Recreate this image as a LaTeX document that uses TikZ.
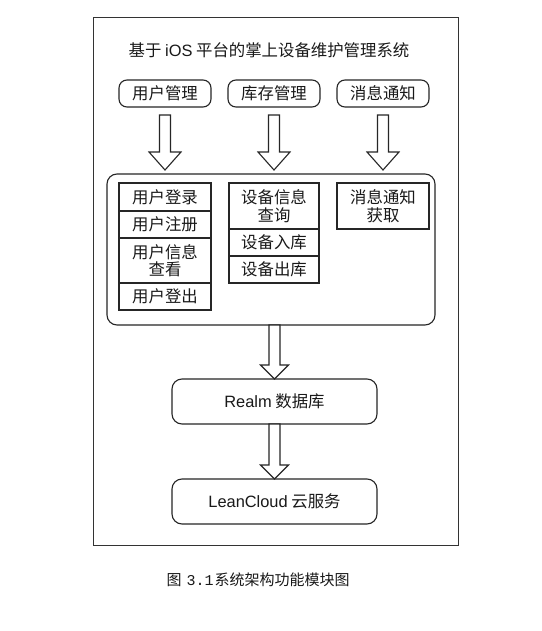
\documentclass[tikz,border=0pt]{standalone}
\usepackage{fontspec}
\setmainfont{Liberation Sans}
\newfontfamily\cjk{Noto Sans CJK SC}
\newfontfamily\monofont{Liberation Mono}
\usetikzlibrary{calc}
\newcommand{\hollowarrow}[4]{%
  \draw[blockarr] let \p1=(#1), \p2=(#2) in
    (\x1-5.5pt,\y1) -- (\x1-5.5pt,\y2+#3) -- (\x1-#4,\y2+#3) -- (\x1,\y2)
    -- (\x1+#4,\y2+#3) -- (\x1+5.5pt,\y2+#3) -- (\x1+5.5pt,\y1) -- cycle;}
\begin{document}
\begin{tikzpicture}[x=1pt,y=-1pt,
  every node/.style={inner sep=0pt, outer sep=0pt, align=center,
    font=\fontsize{16.4}{17.5}\selectfont\cjk, text=black!90},
  rbox/.style={draw=black!85, line width=1.1pt, rounded corners=8pt},
  sbox/.style={draw=black!85, line width=1.1pt},
  blockarr/.style={draw=black!85, line width=1.1pt, fill=white, line join=miter}]
\useasboundingbox[fill=white] (0,0) rectangle (541,631);
% outer frame
\node[draw=black!80, line width=1pt, minimum width=365pt, minimum height=527pt] (outer) at (275.5,281.5) {};
\node (title) at (269,50) {基于 {\rmfamily iOS} 平台的掌上设备维护管理系统};
% top modules
\node[rbox, minimum width=92pt, minimum height=27pt] (t1) at (165,93.5) {用户管理};
\node[rbox, minimum width=92pt, minimum height=27pt] (t2) at (274,93.5) {库存管理};
\node[rbox, minimum width=92pt, minimum height=27pt] (t3) at (383,93.5) {消息通知};
% big container
\node[rbox, rounded corners=10pt, minimum width=328pt, minimum height=151pt] (big) at (271,249.5) {};
% column 1
\node[sbox, minimum width=92pt, minimum height=28pt] (c1a) at (165,197) {用户登录};
\node[sbox, minimum width=92pt, minimum height=27pt] (c1b) at (165,224.5) {用户注册};
\node[sbox, minimum width=92pt, minimum height=45pt] (c1c) at (165,260.5) {用户信息\\查看};
\node[sbox, minimum width=92pt, minimum height=27pt] (c1d) at (165,296.5) {用户登出};
% column 2
\node[sbox, minimum width=90pt, minimum height=46pt] (c2a) at (274,206) {设备信息\\查询};
\node[sbox, minimum width=90pt, minimum height=27pt] (c2b) at (274,242.5) {设备入库};
\node[sbox, minimum width=90pt, minimum height=27pt] (c2c) at (274,269.5) {设备出库};
% column 3
\node[sbox, minimum width=92pt, minimum height=46pt] (c3a) at (383,206) {消息通知\\获取};
% bottom layers
\node[rbox, rounded corners=10pt, minimum width=205pt, minimum height=45pt] (realm) at (274.5,401.5) {{\rmfamily Realm} 数据库};
\node[rbox, rounded corners=10pt, minimum width=205pt, minimum height=45pt] (lean) at (274.5,501.5) {{\rmfamily LeanCloud} 云服务};
% arrows
\hollowarrow{$(t1.south)+(0,8)$}{$(t1.south |- big.north)+(0,-4)$}{18pt}{16pt}
\hollowarrow{$(t2.south)+(0,8)$}{$(t2.south |- big.north)+(0,-4)$}{18pt}{16pt}
\hollowarrow{$(t3.south)+(0,8)$}{$(t3.south |- big.north)+(0,-4)$}{18pt}{16pt}
\hollowarrow{realm.north |- big.south}{realm.north}{14pt}{14pt}
\hollowarrow{realm.south}{lean.north}{14pt}{14pt}
% caption
\node[font=\fontsize{15}{17}\selectfont\cjk] (caption) at (258,580) {图\hspace{5pt}{\monofont 3.1}\hspace{1pt}系统架构功能模块图};
\end{tikzpicture}
\end{document}
